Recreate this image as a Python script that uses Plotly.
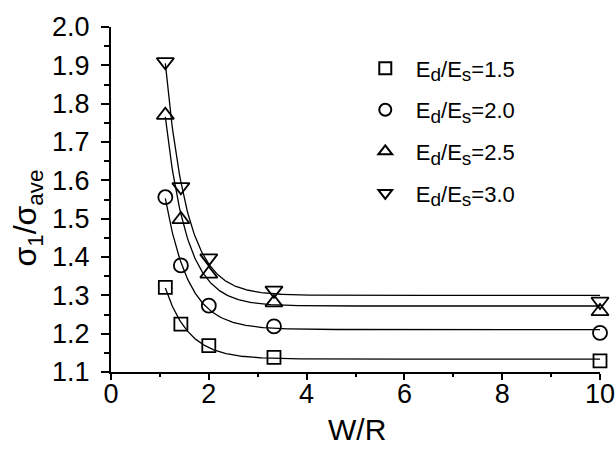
import numpy as np
import plotly.graph_objects as go

# W/R values (10/9, 10/7, 10/5, 10/3, 10/1)
wr = [1.111, 1.429, 2.0, 3.333, 10.0]
s_15 = [1.321, 1.225, 1.169, 1.138, 1.129]
s_20 = [1.556, 1.378, 1.273, 1.219, 1.202]
s_25 = [1.770, 1.498, 1.356, 1.281, 1.258]
s_30 = [1.909, 1.583, 1.397, 1.313, 1.284]
ratios = ["1.5", "2.0", "2.5", "3.0"]

SUBSTYLE = '<span style="font-size:19px">'
names = ["&nbsp;\u2009E<sub>" + SUBSTYLE + "d</span></sub>/E<sub>" + SUBSTYLE + "s</span></sub>=" + r
         for r in ratios]
series = [s_15, s_20, s_25, s_30]
symbols = ["square-open", "circle-open", "triangle-up-open", "triangle-down-open"]
sizes = [13, 14, 15, 15]

x_ticks = [0, 2, 4, 6, 8, 10]
y_ticks = [1.1, 1.2, 1.3, 1.4, 1.5, 1.6, 1.7, 1.8, 1.9, 2.0]


def exp_fit(x, y):
    """Least-squares fit of y = y0 + A*exp(-x/t) (grid over t)."""
    x = np.asarray(x, float)
    y = np.asarray(y, float)
    best = None
    for t in np.linspace(0.2, 1.5, 400):
        M = np.column_stack([np.ones_like(x), np.exp(-x / t)])
        coef, *_ = np.linalg.lstsq(M, y, rcond=None)
        err = np.sum((M @ coef - y) ** 2)
        if best is None or err < best[0]:
            best = (err, coef, t)
    _, (y0, a), t = best
    return lambda xx: y0 + a * np.exp(-np.asarray(xx) / t)


fig = go.Figure()
xf = np.linspace(wr[0], wr[-1], 400)
for ys in series:
    f = exp_fit(wr, ys)
    fig.add_trace(go.Scatter(x=xf, y=f(xf), mode="lines",
                             line=dict(color="black", width=1.3),
                             showlegend=False, hoverinfo="skip"))

for i, ys in enumerate(series):
    fig.add_trace(go.Scatter(x=wr, y=ys, mode="markers", name=names[i],
                             legendgroup=f"g{i}",
                             marker=dict(symbol=symbols[i], size=sizes[i],
                                         color="black", line=dict(width=1.8, color="black")),
                             cliponaxis=False))

REG = "Liberation Sans, Arial, sans-serif"
fig.update_layout(
    width=615, height=450,
    margin=dict(l=111, r=15, t=27, b=78),
    paper_bgcolor="white", plot_bgcolor="white",
    font=dict(family=REG, color="black"),
    legend=dict(x=0.52, y=0.941, xanchor="left", yanchor="top",
                font=dict(size=22, family=REG), tracegroupgap=10,
                bgcolor="rgba(0,0,0,0)", itemsizing="constant"),
    showlegend=True,
    annotations=[
        dict(text="W/R", xref="paper", yref="paper", x=0.503, y=-0.168,
             showarrow=False, font=dict(size=30, family=REG),
             xanchor="center", yanchor="middle"),
        dict(text="σ<sub>1</sub>/σ<sub>ave</sub>", xref="paper", yref="paper",
             x=-0.171, y=0.446, textangle=-90, showarrow=False,
             font=dict(size=32, family=REG), xanchor="center", yanchor="middle"),
    ],
)
fig.update_xaxes(range=[0, 10], tickvals=x_ticks, ticktext=[str(v) for v in x_ticks],
                 showgrid=False, zeroline=False, showline=True, linecolor="black",
                 linewidth=2, ticks="outside", ticklen=6, tickwidth=2, tickcolor="black",
                 minor=dict(dtick=1, ticks="outside", ticklen=3, tickwidth=1.5, tickcolor="black"),
                 tickfont=dict(size=27, family=REG), ticklabelstandoff=-9,
                 ticklabeloverflow="allow", automargin=False)
fig.update_yaxes(range=[1.1, 2.0], tickvals=y_ticks, ticktext=[f"{v:.1f}" for v in y_ticks],
                 showgrid=False, zeroline=False, showline=True, linecolor="black",
                 linewidth=2, ticks="outside", ticklen=8, tickwidth=2, tickcolor="black",
                 minor=dict(dtick=0.05, ticks="outside", ticklen=5, tickwidth=1.5, tickcolor="black"),
                 tickfont=dict(size=27, family=REG), ticklabelstandoff=6,
                 ticklabeloverflow="allow", automargin=False)

fig.write_html("out.html")
